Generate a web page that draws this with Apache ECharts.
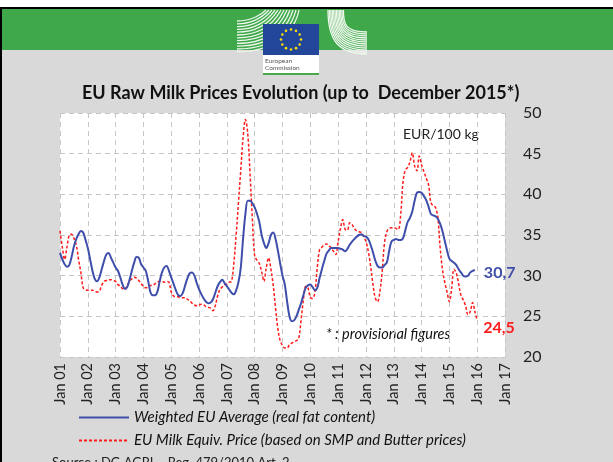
<!DOCTYPE html>
<html>
<head>
<meta charset="utf-8">
<title>EU Raw Milk Prices Evolution</title>
<script src="https://cdn.jsdelivr.net/npm/echarts@6.0.0/dist/echarts.min.js"></script>
<style>
  html, body { margin: 0; padding: 0; background: #d9d9d9; }
  #chart { width: 613px; height: 462px; }
</style>
</head>
<body>
<div id="chart"></div>
<script>
// x axis: months since Jan 2001, one tick label per year
const yearLabels = ['Jan 01', 'Jan 02', 'Jan 03', 'Jan 04', 'Jan 05', 'Jan 06', 'Jan 07', 'Jan 08', 'Jan 09',
  'Jan 10', 'Jan 11', 'Jan 12', 'Jan 13', 'Jan 14', 'Jan 15', 'Jan 16', 'Jan 17']

// Weighted EU Average (real fat content), EUR/100 kg, Jan 2001 - Dec 2015
const weightedAvg = [
  32.8, 32.0, 31.4, 31.1, 31.3, 32.3, 33.6, 34.5, 35.1, 35.5, 35.3, 34.4, // 2001
  33.4, 32.0, 30.6, 29.6, 29.3, 29.8, 30.8, 31.8, 32.6, 32.8, 32.2, 31.6, // 2002
  31.0, 30.6, 29.8, 28.9, 28.4, 28.6, 29.5, 30.6, 31.6, 32.3, 32.2, 31.4, // 2003
  31.0, 30.6, 29.4, 28.0, 27.6, 27.6, 28.0, 29.3, 30.4, 31.0, 31.2, 30.6, // 2004
  29.8, 29.0, 28.2, 27.6, 27.5, 27.9, 28.8, 29.7, 30.3, 30.4, 30.0, 29.1, // 2005
  28.3, 27.7, 27.2, 26.8, 26.6, 26.7, 27.1, 27.9, 28.7, 29.2, 29.5, 29.1, // 2006
  28.7, 28.3, 27.9, 27.7, 28.2, 29.2, 31.0, 34.6, 37.6, 39.2, 39.2, 38.9, // 2007
  38.4, 37.6, 36.6, 35.0, 34.0, 33.4, 34.0, 35.0, 35.3, 34.5, 33.1, 31.5, // 2008
  30.0, 28.9, 26.8, 25.0, 24.4, 24.5, 25.0, 25.8, 26.6, 27.6, 28.5, 28.8, // 2009
  28.9, 28.6, 28.2, 28.5, 29.7, 30.8, 31.8, 32.7, 33.1, 33.4, 33.4, 33.4, // 2010
  33.4, 33.3, 33.2, 33.0, 33.3, 33.8, 34.2, 34.5, 34.8, 35.0, 35.1, 34.9, // 2011
  34.8, 34.5, 33.8, 32.9, 31.9, 31.2, 31.0, 31.0, 31.3, 31.6, 33.0, 34.2, // 2012
  34.4, 34.5, 34.4, 34.4, 34.6, 35.6, 36.6, 37.1, 37.9, 39.2, 40.2, 40.3, // 2013
  40.2, 39.8, 39.3, 38.5, 37.6, 37.4, 37.3, 37.0, 36.4, 35.5, 34.3, 33.1, // 2014
  32.1, 31.8, 31.6, 31.3, 30.8, 30.4, 30.0, 29.9, 30.0, 30.4, 30.6, 30.7  // 2015
]

// EU Milk Equiv. Price (SMP + Butter), EUR/100 kg, Jan 2001 - Jan 2016
const milkEquiv = [
  35.5, 33.5, 32.0, 33.5, 35.0, 35.1, 34.6, 33.8, 32.0, 30.4, 28.5, 28.3, // 2001
  28.2, 28.2, 28.2, 28.1, 28.0, 28.1, 28.8, 29.3, 29.4, 29.5, 29.5, 29.4, // 2002
  29.3, 28.9, 28.7, 28.4, 28.3, 28.8, 29.3, 29.6, 29.8, 29.7, 29.4, 29.0, // 2003
  28.7, 28.5, 28.6, 28.8, 28.8, 29.0, 29.2, 29.3, 29.3, 29.2, 29.3, 29.2, // 2004
  28.0, 27.5, 27.4, 27.4, 27.3, 27.3, 27.3, 27.1, 26.9, 26.6, 26.4, 26.3, // 2005
  26.4, 26.5, 26.4, 26.2, 26.1, 26.0, 25.7, 26.3, 27.5, 28.3, 28.6, 28.9, // 2006
  29.0, 29.2, 29.3, 31.5, 35.0, 39.0, 43.0, 47.0, 49.2, 47.5, 42.5, 37.0, // 2007
  32.4, 31.9, 31.5, 30.5, 29.3, 31.0, 32.2, 30.8, 28.8, 26.0, 23.5, 22.0, // 2008
  21.4, 21.1, 21.1, 21.5, 21.7, 21.9, 22.0, 22.3, 24.5, 27.0, 28.7, 28.5, // 2009
  27.3, 27.2, 28.0, 31.0, 33.2, 33.5, 33.8, 33.9, 33.7, 33.4, 33.0, 32.6, // 2010
  34.2, 35.8, 36.9, 35.7, 35.6, 36.5, 36.3, 35.8, 35.5, 35.4, 35.3, 34.8, // 2011
  34.2, 33.0, 31.2, 29.0, 27.3, 26.8, 28.0, 30.5, 34.0, 35.4, 35.8, 35.9, // 2012
  35.9, 35.8, 35.7, 37.5, 41.5, 43.0, 43.3, 44.0, 45.1, 43.5, 42.9, 44.7, // 2013
  43.6, 42.8, 42.0, 41.2, 39.0, 38.6, 38.4, 37.2, 33.5, 30.8, 29.2, 28.0, // 2014
  26.8, 28.5, 30.8, 30.3, 29.0, 27.6, 27.0, 26.3, 25.2, 25.6, 26.7, 25.6, // 2015
  24.5                                                                    // 2016
]

const BLUE = '#3e4eaa'
const RED = '#ff1c1c'
const FONT = 'Lato, "Liberation Sans", sans-serif'

const toPairs = (arr) => arr.map((v, i) => [i, v])
const fmtComma = (p) => p.value[1].toFixed(1).replace('.', ',')

// EU Commission header decorations
const header = []
header.push({ type: 'rect', shape: { x: 0, y: 0, width: 613, height: 7 }, style: { fill: '#fff' } })
header.push({ type: 'rect', shape: { x: 0, y: 7, width: 613, height: 2 }, style: { fill: '#000' } })
header.push({ type: 'rect', shape: { x: 0, y: 9, width: 613, height: 41 }, style: { fill: '#3ea84a' } })
header.push({ type: 'rect', shape: { x: 0, y: 9, width: 2, height: 453 }, style: { fill: '#000' } })
for (let i = 0; i < 12; i++) {
  // left fan: horizontal at the left, bending upwards
  const y0 = 21 + i * 2.8
  header.push({
    type: 'bezierCurve',
    shape: { x1: 237, y1: y0, cpx1: 252 + i * 3.5, cpy1: y0, cpx2: 262 + i * 3.3, cpy2: 14, x2: 266 + i * 3, y2: 10 },
    style: { stroke: '#eef7ec', lineWidth: 1.3, fill: null }
  })
  // right fan: vertical at the top, bending to the right
  header.push({
    type: 'bezierCurve',
    shape: { x1: 328 + i * 1.4, y1: 10, cpx1: 328 + i * 1.4, cpy1: 40 - i * 1.5, cpx2: 338 + i * 0.6, cpy2: 54 - i * 2, x2: 367, y2: 54 - i * 2 },
    style: { stroke: '#eef7ec', lineWidth: 1.3, fill: null }
  })
}
header.push({ type: 'rect', shape: { x: 263, y: 24, width: 56, height: 31 }, style: { fill: '#22479a' } })
header.push({ type: 'rect', shape: { x: 263, y: 55, width: 56, height: 18 }, style: { fill: '#fff' } })
header.push({ type: 'rect', shape: { x: 263, y: 73, width: 56, height: 2 }, style: { fill: '#4aa84a' } })
for (let k = 0; k < 12; k++) {
  const a = k * Math.PI / 6
  header.push({ type: 'circle', shape: { cx: 291 + 10 * Math.cos(a), cy: 39.5 + 10 * Math.sin(a), r: 1.3 }, style: { fill: '#ffdd00' } })
}
header.push({ type: 'text', x: 265, y: 57, style: { text: 'European\nCommission', fontSize: 6.5, lineHeight: 7.5, fill: '#555', fontFamily: FONT } })

const chart = echarts.init(document.getElementById('chart'))

chart.setOption({
  backgroundColor: '#d9d9d9',
  animation: false,
  title: {
    text: 'EU Raw Milk Prices Evolution (up to  December 2015*)',
    left: 77, top: 79,
    textStyle: { fontFamily: FONT, fontSize: 18, fontWeight: 'bold', color: '#111' }
  },
  grid: {
    left: 60, right: 108, top: 113, bottom: 105,
    show: true, backgroundColor: '#fff', borderWidth: 0,
    outerBoundsMode: 'none'
  },
  legend: {
    orient: 'vertical', left: 73, top: 405, itemWidth: 50, itemHeight: 14, itemGap: 8,
    itemStyle: { opacity: 0 },
    textStyle: { fontFamily: FONT, fontSize: 15, fontStyle: 'italic', color: '#111' },
    data: ['Weighted EU Average (real fat content)', 'EU Milk Equiv. Price (based on SMP and Butter prices)']
  },
  xAxis: {
    type: 'value', min: 0, max: 192, interval: 12,
    axisLine: { show: false }, axisTick: { show: false },
    axisLabel: {
      rotate: 90, margin: 6, fontFamily: FONT, fontSize: 14.5, color: '#222',
      formatter: (v) => yearLabels[Math.round(v / 12)]
    },
    splitLine: { lineStyle: { type: [5, 4], color: '#c6c6c6' } }
  },
  yAxis: {
    type: 'value', position: 'right', min: 20, max: 50, interval: 5,
    axisLine: { show: false }, axisTick: { show: false },
    axisLabel: { margin: 18, fontFamily: FONT, fontSize: 16, color: '#222' },
    splitLine: { lineStyle: { type: [5, 4], color: '#c6c6c6' } }
  },
  series: [
    {
      name: 'Weighted EU Average (real fat content)',
      type: 'line', data: toPairs(weightedAvg), symbol: 'none', smooth: 0.35,
      lineStyle: { color: BLUE, width: 2 }, itemStyle: { color: BLUE },
      endLabel: { show: true, formatter: fmtComma, offset: [1, 3], color: BLUE, fontFamily: FONT, fontSize: 16, fontWeight: 'bold' },
      z: 3
    },
    {
      name: 'EU Milk Equiv. Price (based on SMP and Butter prices)',
      type: 'line', data: toPairs(milkEquiv), symbol: 'none', smooth: 0.35,
      lineStyle: { color: RED, width: 1.5, type: [3, 2] }, itemStyle: { color: RED },
      endLabel: { show: true, formatter: fmtComma, offset: [-2, 7], color: RED, fontFamily: FONT, fontSize: 16, fontWeight: 'bold' },
      z: 2
    }
  ],
  graphic: header.concat([
    { type: 'text', x: 403, y: 127, style: { text: 'EUR/100 kg', fontFamily: FONT, fontSize: 14, fill: '#222' } },
    { type: 'text', x: 326, y: 327, style: { text: '* : provisional figures', fontFamily: FONT, fontSize: 14.5, fontStyle: 'italic', fill: '#111' } },
    { type: 'text', x: 52, y: 456, style: { text: 'Source : DG AGRI \u2013 Reg. 479/2010 Art. 2', fontFamily: FONT, fontSize: 13, fill: '#222' } }
  ])
})
</script>
</body>
</html>
